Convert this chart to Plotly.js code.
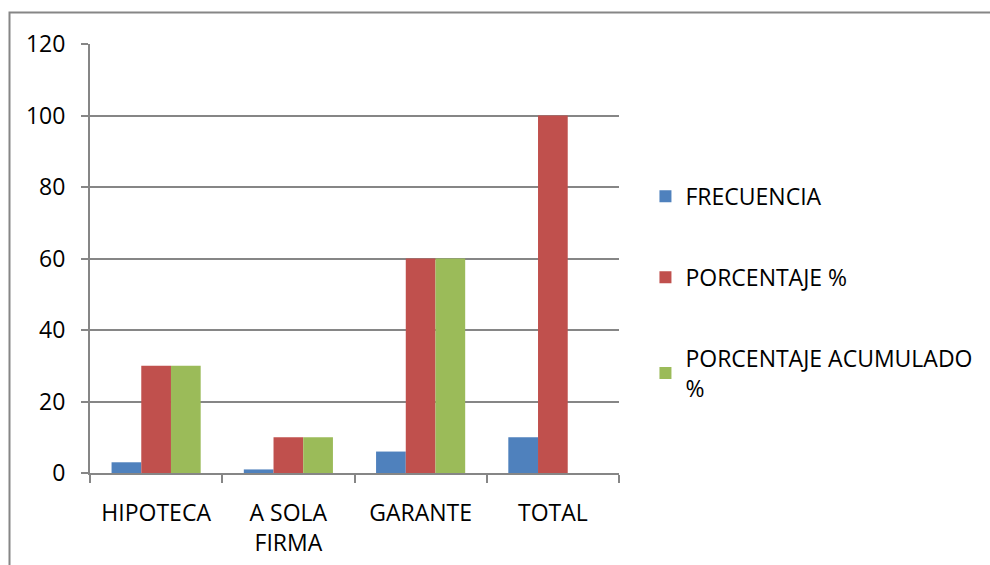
<!DOCTYPE html>
<html>
<head>
<meta charset="utf-8">
<script src="https://cdn.plot.ly/plotly-3.0.1.min.js"></script>
<style>
html,body{margin:0;padding:0;background:#fff;}
#chart{width:990px;height:565px;}
</style>
</head>
<body>
<div id="chart"></div>
<script>
const categories = ["HIPOTECA", "A SOLA<br>FIRMA", "GARANTE", "TOTAL"];
const frecuencia = [3, 1, 6, 10];
const porcentaje = [30, 10, 60, 100];
const acumulado = [30, 10, 60, null];
const seriesNames = ["FRECUENCIA", "PORCENTAJE %", "PORCENTAJE ACUMULADO<br>%"];
const yTicks = [0, 20, 40, 60, 80, 100, 120];

const colors = ["#4F81BD", "#C0504D", "#9BBB59"];
const FONT = "'Open Sans', 'Noto Sans', sans-serif";
const FS = 23;

const traces = [frecuencia, porcentaje, acumulado].map((vals, i) => ({
  type: "bar",
  x: categories,
  y: vals,
  name: seriesNames[i],
  legendgroup: "g" + i,
  marker: {color: colors[i]},
  hoverinfo: "x+y+name"
}));

const layout = {
  width: 990,
  height: 565,
  margin: {l: 90, r: 371, t: 44, b: 92},
  paper_bgcolor: "#fff",
  plot_bgcolor: "#fff",
  barmode: "group",
  bargap: 0.326,
  bargroupgap: 0,
  font: {family: FONT, size: FS, color: "#000"},
  xaxis: {
    type: "category",
    showline: true,
    linecolor: "#868686",
    linewidth: 2,
    ticks: "outside",
    tickson: "boundaries",
    ticklen: 8,
    tickwidth: 2,
    tickcolor: "#868686",
    ticklabelstandoff: 18,
    showgrid: false,
    tickfont: {family: FONT, size: FS, color: "#000"}
  },
  yaxis: {
    range: [0, 120],
    tickvals: yTicks,
    ticktext: yTicks.map(String),
    showline: true,
    linecolor: "#868686",
    linewidth: 2,
    ticks: "outside",
    ticklen: 7,
    tickwidth: 2,
    tickcolor: "#868686",
    ticklabelstandoff: 11,
    showgrid: true,
    gridcolor: "#868686",
    gridwidth: 2,
    zeroline: false,
    tickfont: {family: FONT, size: FS, color: "#000"}
  },
  showlegend: true,
  legend: {
    x: 1.05,
    y: 0.695,
    xanchor: "left",
    yanchor: "top",
    tracegroupgap: 48,
    font: {family: FONT, size: FS, color: "#000"},
    itemwidth: 30,
    bgcolor: "rgba(0,0,0,0)"
  },
  shapes: [{
    type: "rect",
    xref: "paper", yref: "paper",
    x0: (9.5 - 90) / 529, x1: (1000 - 90) / 529,
    y0: (473 - 580) / 429, y1: (473 - 12.5) / 429,
    line: {color: "#868686", width: 2},
    fillcolor: "rgba(0,0,0,0)",
    layer: "below"
  }]
};

Plotly.newPlot("chart", traces, layout, {displayModeBar: false, staticPlot: true});
</script>
</body>
</html>
